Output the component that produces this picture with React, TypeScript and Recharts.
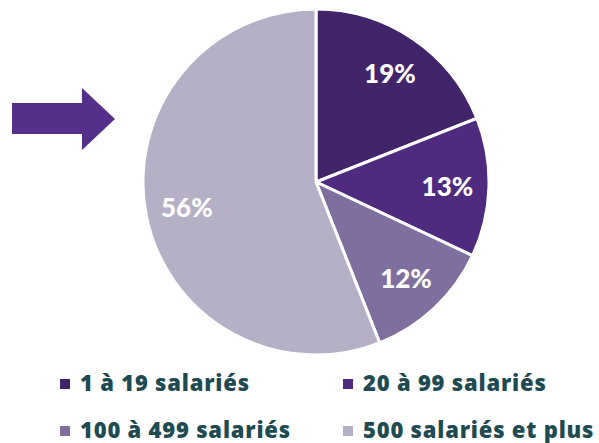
import { PieChart, Pie, Cell, Legend } from "recharts";

const categories = ["1 à 19 salariés", "20 à 99 salariés", "100 à 499 salariés", "500 salariés et plus"];
const shares = [19, 13, 12, 56];
const colors = ["#42246a", "#4f2b80", "#7f6f9f", "#b6b0c7"];

const data = categories.map((name, i) => ({ name, value: shares[i] }));

const RADIAN = Math.PI / 180;

const renderLabel = (props: any) => {
  const { cx, cy, midAngle, outerRadius, value } = props;
  const r = outerRadius * 0.76;
  const x = cx + r * Math.cos(-midAngle * RADIAN);
  const y = cy + r * Math.sin(-midAngle * RADIAN);
  return (
    <text
      x={x}
      y={y}
      fill="#ffffff"
      textAnchor="middle"
      dominantBaseline="central"
      style={{ fontFamily: "Lato, sans-serif", fontWeight: 900, fontSize: 26 }}
    >
      {value}%
    </text>
  );
};

const LegendGrid = () => (
  <div
    style={{
      display: "grid",
      gridTemplateColumns: "283px 260px",
      rowGap: 19,
      paddingLeft: 60,
      fontFamily: "'Open Sans', sans-serif",
      fontWeight: 800,
      fontSize: 22,
      color: "#1e4a52",
      letterSpacing: 0.8,
      whiteSpace: "nowrap",
    }}
  >
    {categories.map((c, i) => (
      <div key={c} style={{ display: "flex", alignItems: "center", height: 28 }}>
        <span style={{ width: 10, height: 10, background: colors[i], display: "inline-block", marginRight: 10, marginTop: 3 }} />
        {c}
      </div>
    ))}
  </div>
);

export default function App() {
  return (
    <div style={{ position: "absolute", top: 0, left: 0, width: 599, height: 443, background: "#fff" }}>
      <svg width={120} height={70} style={{ position: "absolute", left: 0, top: 84 }}>
        <polygon points="12,19 82,19 82,4 115,35 82,66 82,50 12,50" fill="#55308a" />
      </svg>
      <PieChart width={599} height={443} margin={{ top: 0, right: 0, bottom: 0, left: 0 }}>
        <Pie
          data={data}
          dataKey="value"
          nameKey="name"
          cx={316}
          cy={182}
          outerRadius={173}
          startAngle={90}
          endAngle={-270}
          stroke="#ffffff"
          strokeWidth={3}
          label={renderLabel}
          labelLine={false}
          isAnimationActive={false}
        >
          {data.map((d, i) => (
            <Cell key={d.name} fill={colors[i]} />
          ))}
        </Pie>
        <Legend content={<LegendGrid />} wrapperStyle={{ top: 368, left: 0, width: 599 }} />
      </PieChart>
    </div>
  );
}
